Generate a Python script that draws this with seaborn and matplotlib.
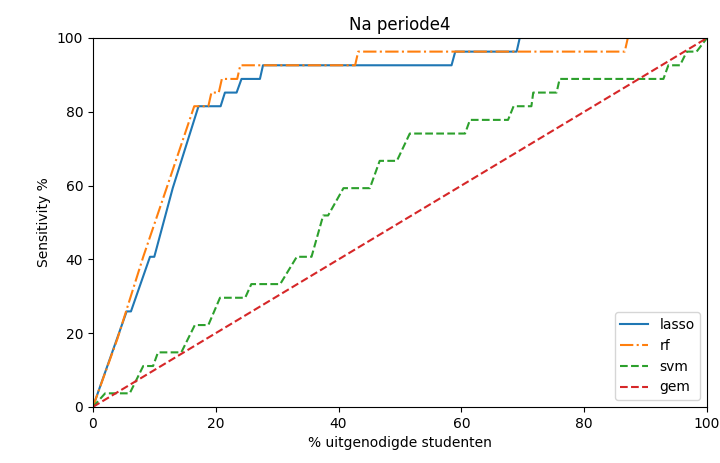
import matplotlib
matplotlib.use("Agg")
import matplotlib.pyplot as plt
import seaborn as sns
import pandas as pd

title = "Na periode4"
xlabel = "% uitgenodigde studenten"
ylabel = "Sensitivity %"

lasso_x = [0, 5.5, 6.2, 9.3, 10, 13, 17.2, 20.8, 21.5, 23.4, 24.2, 27.2, 27.7, 58.4, 59, 69, 69.5, 100]
lasso_y = [0, 25.9, 25.9, 40.7, 40.7, 59.3, 81.5, 81.5, 85.2, 85.2, 88.9, 88.9, 92.6, 92.6, 96.3, 96.3, 100, 100]

rf_x = [0, 4, 8.2, 12, 16.5, 18.8, 19.3, 20.5, 21, 23.5, 24, 42.7, 43.2, 86.6, 87.1, 100]
rf_y = [0, 18.5, 40.7, 59.3, 81.5, 81.5, 85.2, 85.2, 88.9, 88.9, 92.6, 92.6, 96.3, 96.3, 100, 100]

svm_x = [0, 2, 6, 8.2, 9.8, 10.6, 14.4, 16.6, 18.8, 20.7, 24.8, 25.8, 30.5, 33.2, 35.6, 37.5,
         38.3, 40.8, 45.1, 46.7, 49.5, 51.6, 60.6, 61.4, 67.6, 68.5, 71.4, 71.7, 75.5, 76,
         92.9, 93.7, 95.6, 96.7, 98.3, 100]
svm_y = [0, 3.7, 3.7, 11.1, 11.1, 14.8, 14.8, 22.2, 22.2, 29.6, 29.6, 33.3, 33.3, 40.7, 40.7, 51.9,
         51.9, 59.3, 59.3, 66.7, 66.7, 74.1, 74.1, 77.8, 77.8, 81.5, 81.5, 85.2, 85.2, 88.9,
         88.9, 92.6, 92.6, 96.3, 96.3, 100]

gem_x = [0, 100]
gem_y = [0, 100]

series = [
    ("lasso", lasso_x, lasso_y, "-", "#1f77b4"),
    ("rf", rf_x, rf_y, "-.", "#ff7f0e"),
    ("svm", svm_x, svm_y, "--", "#2ca02c"),
    ("gem", gem_x, gem_y, "--", "#d62728"),
]

fig = plt.figure(figsize=(7.2, 4.63), dpi=100)
ax = fig.add_axes([0.129, 0.121, 0.853, 0.797])

for name, xs, ys, ls, col in series:
    df = pd.DataFrame({"x": xs, "y": ys})
    sns.lineplot(data=df, x="x", y="y", ax=ax, sort=False, estimator=None,
                 label=name, color=col, linestyle=ls, linewidth=1.5)

ax.set_xlim(0, 100)
ax.set_ylim(0, 100)
ax.set_xticks([0, 20, 40, 60, 80, 100])
ax.set_yticks([0, 20, 40, 60, 80, 100])
ax.set_title(title, fontsize=12)
ax.set_xlabel(xlabel, fontsize=10)
ax.set_ylabel(ylabel, fontsize=10)
ax.legend(loc="lower right")

fig.savefig("out.png", dpi=100)
